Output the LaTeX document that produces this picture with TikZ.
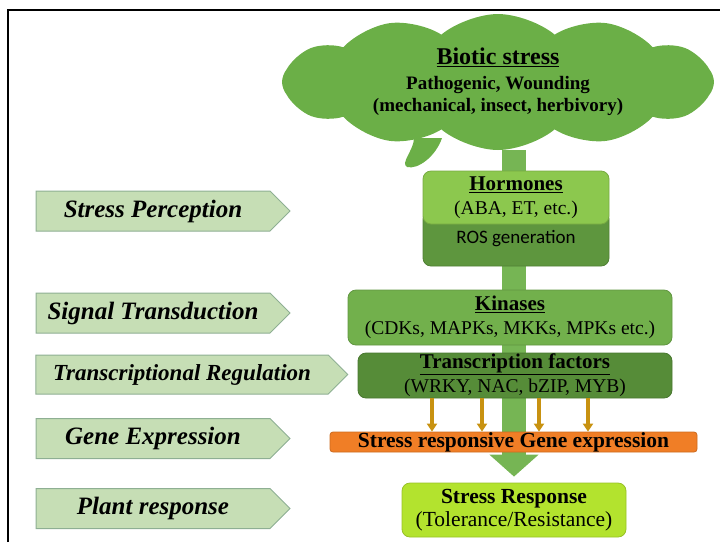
\documentclass[tikz,border=0pt]{standalone}
\usepackage{fontspec}
\setmainfont{Liberation Serif}
\newfontfamily\rosfont{Carlito}
\usetikzlibrary{arrows.meta, positioning, shapes.symbols, backgrounds}
\definecolor{cloudgreen}{RGB}{107,175,71}
\definecolor{trunkgreen}{RGB}{118,181,84}
\definecolor{lightgreen}{RGB}{140,200,78}
\definecolor{darkgreen}{RGB}{94,150,62}
\definecolor{kingreen}{RGB}{114,176,76}
\definecolor{tfgreen}{RGB}{86,140,56}
\definecolor{geneorange}{RGB}{240,126,38}
\definecolor{goldarrow}{RGB}{200,146,17}
\definecolor{respgreen}{RGB}{179,227,46}
\definecolor{tagfill}{RGB}{198,222,181}
\definecolor{tagborder}{RGB}{142,175,147}

\begin{document}
\begin{tikzpicture}[x=1pt,y=-1pt,
  tag/.style={signal, signal to=east, signal pointer angle=90, draw=tagborder,
    fill=tagfill, line width=1pt, minimum width=254pt, minimum height=40pt,
    inner sep=0pt, font=\fontsize{25}{28}\selectfont\bfseries\itshape},
  box/.style={rounded corners=8pt, draw=#1!85!black, fill=#1, line width=0.8pt,
    inner sep=0pt, align=center, font=\fontsize{19.5}{24}\selectfont},
  trunk/.style={trunkgreen, line width=24pt, -{Triangle[width=48pt,length=22pt]}},
  goldarr/.style={goldarrow, line width=4pt, -{Triangle[width=10pt,length=8pt]}}]
  \useasboundingbox (0,0) rectangle (720,542);
  \draw[line width=1.3pt] (8,542) -- (8,10) -- (720,10);

  \node[cloud, cloud puffs=12, cloud puff arc=80, cloud ignores aspect,
    minimum width=432pt, minimum height=136pt, fill=cloudgreen, align=center,
    inner sep=0pt, font=\fontsize{19}{22}\selectfont\bfseries] (cloud) at (498,82)
    {{\fontsize{24}{26}\selectfont\underline{Biotic stress}}\\[3pt]
     Pathogenic, Wounding\\
     (mechanical, insect, herbivory)};
  \fill[cloudgreen] (414,138) .. controls (414,150) and (400,163) .. (407,167)
    .. controls (418,170) and (436,156) .. (442,138) -- cycle;

  \node[tag] (perc) at (153,211) {Stress Perception};
  \node[tag] (sign) at (153,313) {Signal Transduction};
  \node[tag, minimum width=312pt, minimum height=39pt,
    font=\fontsize{23}{26}\selectfont\bfseries\itshape] (treg) at (182,374.5)
    {Transcriptional Regulation};
  \node[tag] (gexp) at (153,438.5) {Gene Expression};
  \node[tag] (plant) at (153,508.5) {Plant response};

  \node[box=darkgreen, minimum width=186pt, minimum height=55pt] (ros)
    at (516,238.5) {\rosfont\fontsize{19}{22}\selectfont ROS generation};
  \node[box=lightgreen, minimum width=186pt, minimum height=53pt] (horm)
    at (516,197.5) {{\fontsize{21}{24}\selectfont\bfseries\underline{Hormones}}\\(ABA, ET, etc.)};
  \node[box=kingreen, minimum width=324pt, minimum height=55pt] (kin)
    at (510,317.5) {{\fontsize{21}{24}\selectfont\bfseries\underline{Kinases}}\\(CDKs, MAPKs, MKKs, MPKs etc.)};
  \node[box=tfgreen, minimum width=314pt, minimum height=45pt] (tf)
    at (515,375.5) {{\fontsize{21}{23}\selectfont\bfseries\underline{Transcription factors}}\\(WRKY, NAC, bZIP, MYB)};
  \node[box=geneorange, rounded corners=3pt, minimum width=367pt, minimum height=20pt,
    font=\fontsize{21.5}{22}\selectfont\bfseries] (gene) at (513.5,442)
    {Stress responsive Gene expression};
  \node[box=respgreen, minimum width=224pt, minimum height=54pt,
    font=\fontsize{21.5}{23}\selectfont] (resp) at (514,510)
    {\textbf{Stress Response}\\(Tolerance/Resistance)};

  \foreach \x in {432,482,539,588}
    \draw[goldarr] (\x,0 |- tf.south) -- (\x,0 |- gene.north);

  \begin{scope}[on background layer]
    \draw[trunk, shorten >=6pt] (resp.north |- cloud.south) -- (resp.north);
  \end{scope}
\end{tikzpicture}
\end{document}
